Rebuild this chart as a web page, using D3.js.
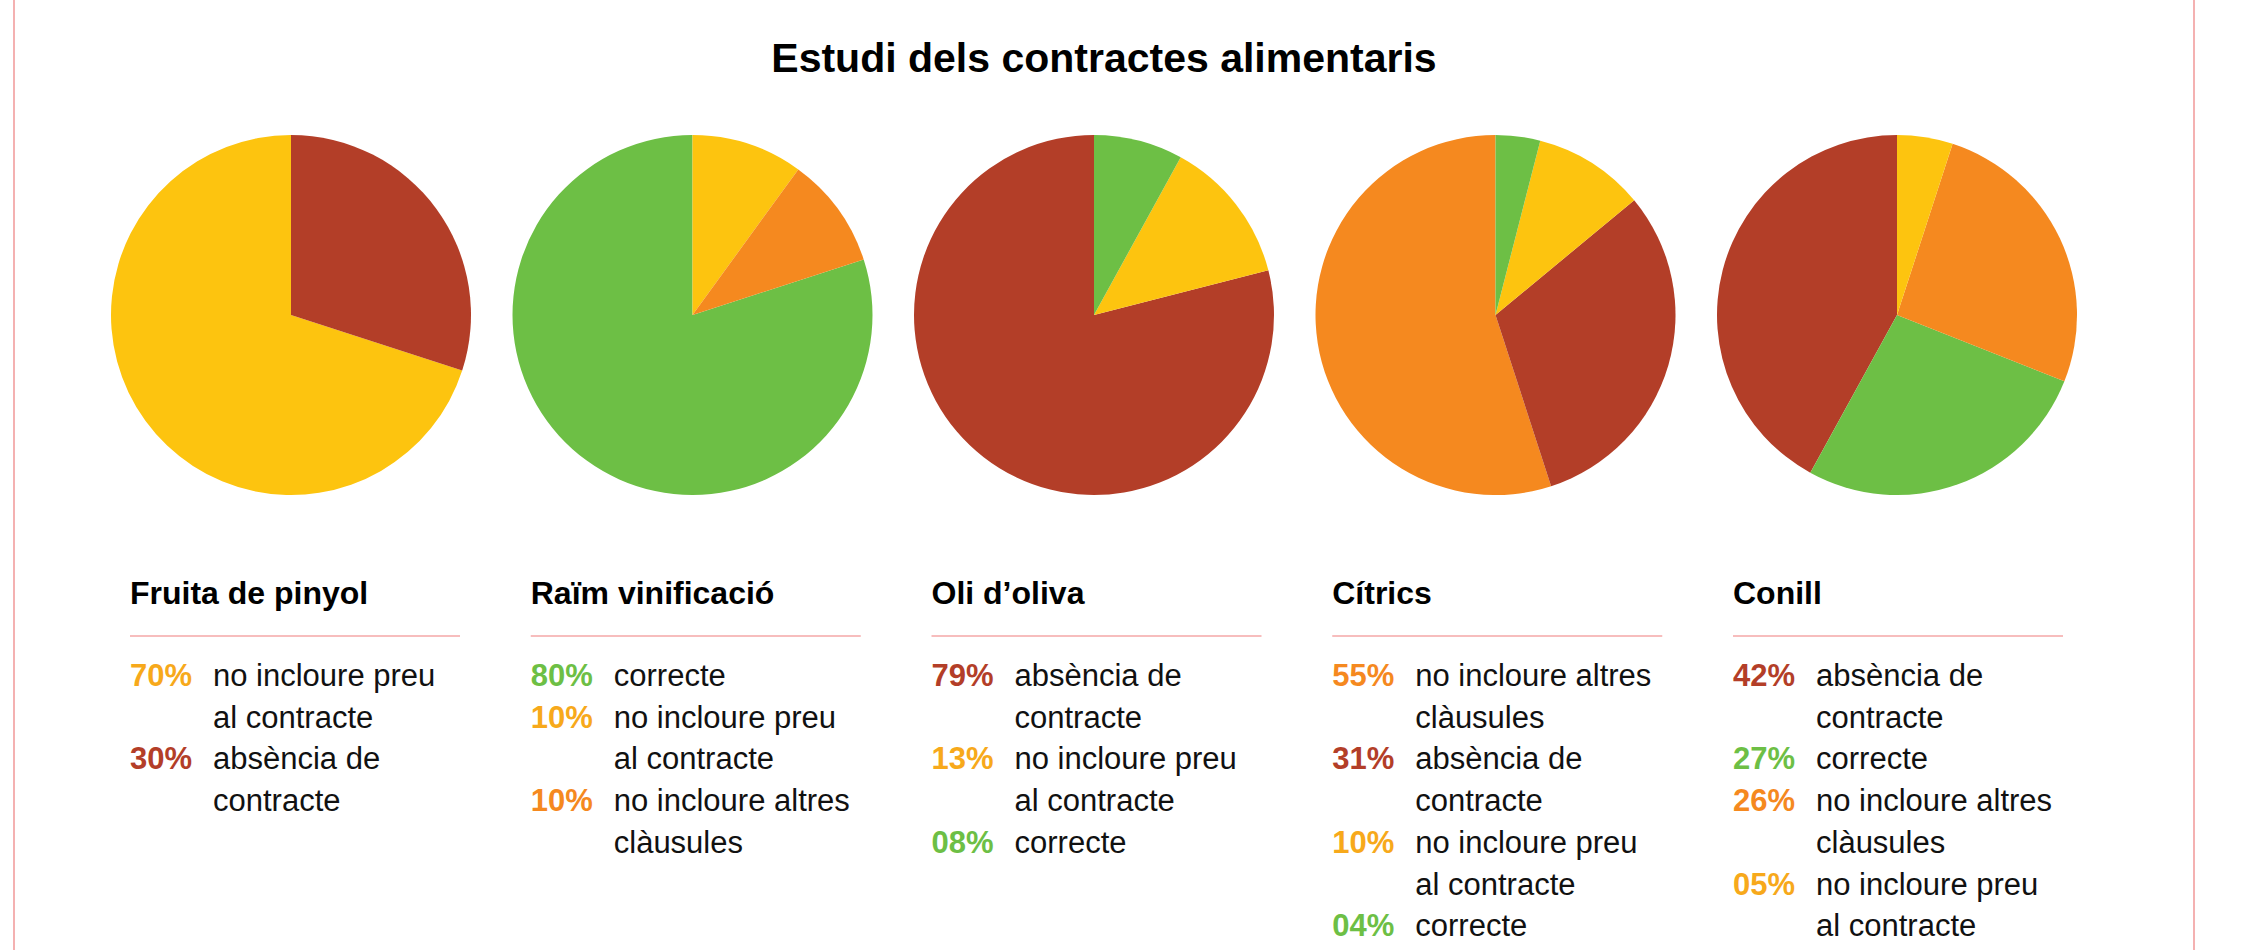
<!DOCTYPE html>
<html>
<head>
<meta charset="utf-8">
<script src="https://cdn.jsdelivr.net/npm/d3@7"></script>
<style>
  body { margin: 0; background: #fff; }
  svg { display: block; font-family: "Liberation Sans", Arial, Helvetica, sans-serif; }
</style>
</head>
<body>
<div id="chart"></div>
<script>
// data
var title = "Estudi dels contractes alimentaris";
var categories = ["Fruita de pinyol", "Raïm vinificació", "Oli d\u2019oliva", "Cítrics", "Conill"];
var typeKeys = ["preu", "absencia", "correcte", "altres"];
var typeLines = [
    ["no incloure preu", "al contracte"],
    ["absència de", "contracte"],
    ["correcte"],
    ["no incloure altres", "clàusules"]
];
var seriesTypes = [
    ["preu", "absencia"],
    ["correcte", "preu", "altres"],
    ["absencia", "preu", "correcte"],
    ["altres", "absencia", "preu", "correcte"],
    ["absencia", "correcte", "altres", "preu"]
];
var seriesValues = [
    [70, 30],
    [80, 10, 10],
    [79, 13, 8],
    [55, 31, 10, 4],
    [42, 27, 26, 5]
];

var width = 2246;
var height = 950;
var radius = 180;
var pieY = 315;
var lineH = 41.7;

var sliceColor = d3.scaleOrdinal()
    .domain(typeKeys)
    .range(["#FDC40F", "#B33E28", "#6DBF45", "#F5891F"]);
var textColor = d3.scaleOrdinal()
    .domain(typeKeys)
    .range(["#F7A91B", "#B33E28", "#6DBF45", "#F5891F"]);
var linesFor = d3.scaleOrdinal().domain(typeKeys).range(typeLines);

// pie centres and text columns
var x = d3.scalePoint()
    .domain(categories)
    .range([291, 1897]);
var xText = d3.scalePoint()
    .domain(categories)
    .range([130, 1733]);

var fmt = d3.format("02d");

var svg = d3.select('#chart')
    .append('svg')
    .attr('width', width)
    .attr('height', height);

// side rules
svg.selectAll('.side')
    .data([14, 2194])
    .enter().append('line')
    .attr('class', 'side')
    .attr('x1', function (d) { return d; })
    .attr('x2', function (d) { return d; })
    .attr('y1', 0)
    .attr('y2', height)
    .attr('stroke', '#F4B1B1')
    .attr('stroke-width', 2);

svg.append('text')
    .attr('x', 1104)
    .attr('y', 72)
    .attr('text-anchor', 'middle')
    .style('font-weight', 'bold')
    .style('font-size', '41px')
    .attr('fill', '#000')
    .text(title);

var arc = d3.arc()
    .innerRadius(0)
    .outerRadius(radius);

var pie = d3.pie()
    .value(function (d) { return d.value; })
    .sort(function (a, b) { return a.value - b.value; });

var cols = svg.selectAll('.col')
    .data(categories)
    .enter().append('g')
    .attr('class', 'col');

cols.each(function (cat, ci) {
    var g = d3.select(this);
    var cx = x(cat);
    var left = xText(cat);
    var items = seriesTypes[ci].map(function (t, i) {
        return { type: t, value: seriesValues[ci][i] };
    });

    g.append('g')
        .attr('transform', 'translate(' + cx + ',' + pieY + ')')
        .selectAll('path')
        .data(pie(items))
        .enter().append('path')
        .attr('d', arc)
        .attr('fill', function (d) { return sliceColor(d.data.type); });

    g.append('text')
        .attr('x', left)
        .attr('y', 604)
        .style('font-weight', 'bold')
        .style('font-size', '32px')
        .attr('fill', '#000')
        .text(cat);

    g.append('line')
        .attr('x1', left)
        .attr('x2', left + 330)
        .attr('y1', 636)
        .attr('y2', 636)
        .attr('stroke', '#F4A7A7')
        .attr('stroke-width', 1.5);

    var row = 0;
    items.forEach(function (d) {
        var y0 = 686 + row * lineH;
        g.append('text')
            .attr('x', left)
            .attr('y', y0)
            .style('font-weight', 'bold')
            .style('font-size', '31px')
            .attr('fill', textColor(d.type))
            .text(fmt(d.value) + '%');
        linesFor(d.type).forEach(function (ln, li) {
            g.append('text')
                .attr('x', left + 83)
                .attr('y', y0 + li * lineH)
                .style('font-size', '31px')
                .attr('fill', '#111')
                .text(ln);
        });
        row += linesFor(d.type).length;
    });
});
</script>
</body>
</html>
